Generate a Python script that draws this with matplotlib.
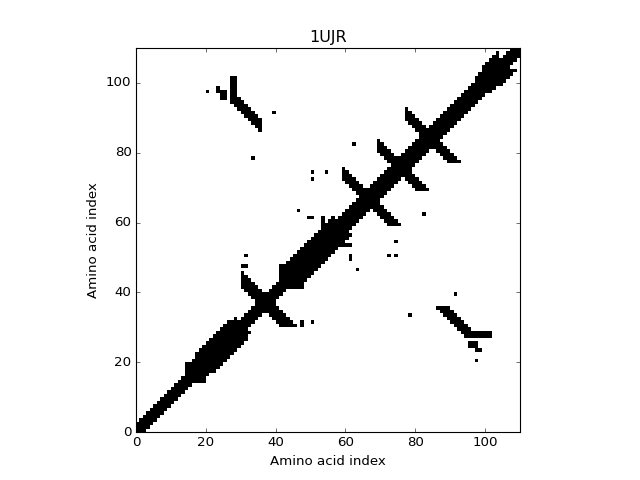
import numpy as np
import matplotlib.pyplot as plt

plt.style.use('classic')

n_res = 110

# diagonal band: residue ranges and how far from the diagonal contacts reach
band_start = [0, 14, 17, 27, 29, 41, 57, 97, 99, 104]
band_end = [14, 17, 27, 29, 41, 57, 97, 99, 104, 110]
band_halfwidth = [2, 4, 5, 4, 2, 5, 3, 4, 5, 2]

# antiparallel strand pairs: residue range i0..i1 with i + j in s0..s1
anti_i0 = [30, 59, 69, 77, 27]
anti_i1 = [37, 67, 76, 84, 35]
anti_s0 = [71, 131, 149, 166, 121]
anti_s1 = [75, 134, 152, 169, 124]

# small rectangular patches (i0..i1, j0..j1)
patch_i0 = [27, 24, 23, 53, 54, 30, 41, 14]
patch_i1 = [28, 25, 23, 53, 54, 33, 42, 15]
patch_j0 = [96, 95, 97, 58, 58, 41, 46, 18]
patch_j1 = [101, 97, 98, 61, 59, 42, 47, 19]

# isolated contacts
dot_i = [20, 39, 33, 62, 50, 54, 50, 46, 49, 50, 31, 30, 31, 30]
dot_j = [97, 91, 78, 82, 74, 74, 72, 63, 61, 61, 50, 47, 47, 44]

contact = np.zeros((n_res, n_res))
for a, b, w in zip(band_start, band_end, band_halfwidth):
    for i in range(a, b):
        for d in range(w + 1):
            if i + d < n_res:
                contact[i, i + d] = contact[i + d, i] = 1
for i0, i1, s0, s1 in zip(anti_i0, anti_i1, anti_s0, anti_s1):
    for i in range(i0, i1 + 1):
        for s in range(s0, s1 + 1):
            j = s - i
            if i <= j < n_res:
                contact[i, j] = contact[j, i] = 1
for i0, i1, j0, j1 in zip(patch_i0, patch_i1, patch_j0, patch_j1):
    contact[i0:i1 + 1, j0:j1 + 1] = 1
    contact[j0:j1 + 1, i0:i1 + 1] = 1
for i, j in zip(dot_i, dot_j):
    contact[i, j] = contact[j, i] = 1

fig = plt.figure(figsize=(8, 6), dpi=80)
ax = fig.add_subplot(111)
ax.imshow(contact, cmap='binary', origin='lower', interpolation='nearest',
          extent=(0, n_res, 0, n_res))
ax.set_title('1UJR')
ax.set_xlabel('Amino acid index')
ax.set_ylabel('Amino acid index')
fig.savefig('out.png', dpi=80, facecolor='white')
